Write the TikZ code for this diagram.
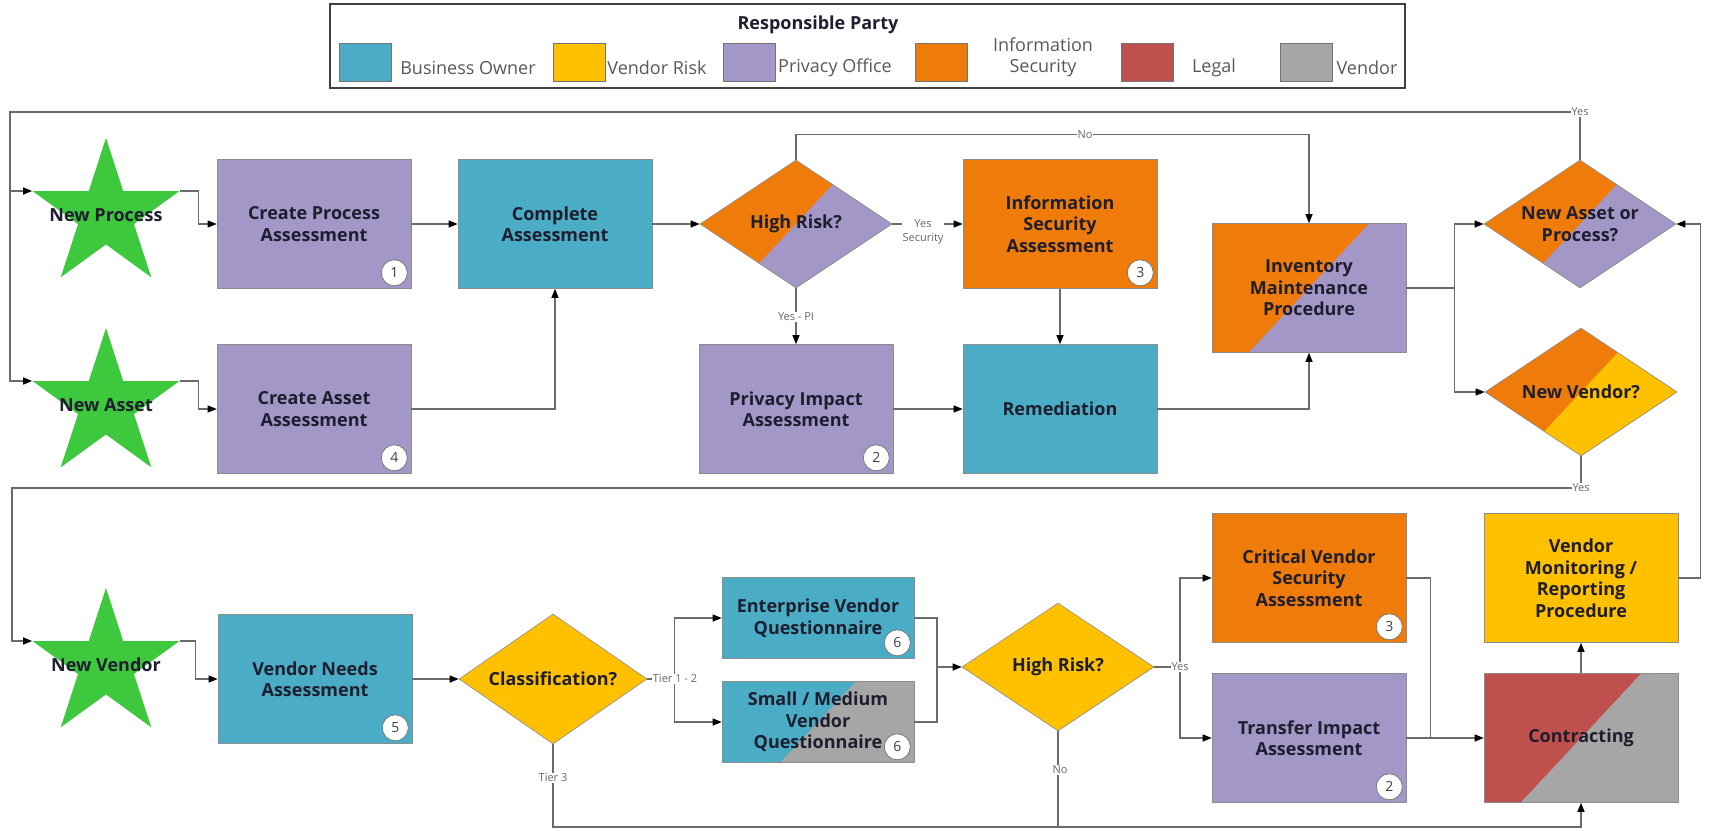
\documentclass[tikz,border=0pt]{standalone}
\usepackage{fontspec}
\setmainfont{Open Sans}
\usetikzlibrary{shapes.geometric,arrows.meta,calc}
\definecolor{cteal}{HTML}{4BACC6}
\definecolor{cyellow}{HTML}{FFC000}
\definecolor{clav}{HTML}{A397C7}
\definecolor{corange}{HTML}{EE7B0A}
\definecolor{cred}{HTML}{C0504D}
\definecolor{cgray}{HTML}{A6A6A6}
\definecolor{cgreen}{HTML}{3EC83E}
\definecolor{txt}{HTML}{1E1E2E}
\definecolor{lgray}{HTML}{6B6B6B}
\tikzset{
  base/.style={draw=black!45, line width=0.6pt, text=txt, font=\fontsize{18}{21.5}\selectfont\bfseries, align=center, inner sep=0pt},
  stepbox/.style={base, rectangle, minimum width=194pt, minimum height=129pt},
  qbox/.style={base, rectangle, minimum width=192pt, minimum height=81pt},
  dec/.style={base, diamond, aspect=1.5, minimum width=192pt, minimum height=128pt},
  split/.style n args={2}{fill=#1, path picture={\fill[#2] ($(path picture bounding box.center)+(140,-150)$) -- ($(path picture bounding box.center)+(-140,150)$) -- ($(path picture bounding box.center)+(300,300)$) -- cycle;}},
  starshape/.style={star, star points=5, star point ratio=2.618, minimum size=154pt, inner sep=0pt, fill=cgreen, draw=none},
  startext/.style={font=\fontsize{18}{21.5}\selectfont\bfseries, text=txt},
  badge/.style={circle, fill=white, draw=black!55, line width=0.7pt, minimum size=26pt, inner sep=0pt, font=\fontsize{14}{14}\selectfont, text=black!75},
  conn/.style={draw=lgray, line width=1.2pt},
  arr/.style={conn, -{Triangle[length=9pt, width=7pt, color=black]}},
  lbl/.style={fill=white, inner sep=1pt, font=\fontsize{11}{14}\selectfont, text=black!60, align=center},
  swatch/.style={rectangle, minimum width=52pt, minimum height=38pt, draw=black!55, line width=0.6pt, inner sep=0pt},
  legtext/.style={font=\fontsize{18}{21}\selectfont, text=black!65, align=center, inner sep=0pt},
}
\begin{document}
\begin{tikzpicture}[x=1pt, y=-1pt]
\useasboundingbox (0,0) rectangle (1710,830);
\fill[white] (0,0) rectangle (1710,830);

% Legend
\node[draw=black!75, line width=1.5pt, fill=white, minimum width=1075pt, minimum height=84pt, inner sep=0pt] (legend) at (867.5,46) {};
\node[font=\fontsize{18}{21}\selectfont\bfseries, text=txt] (legtitle) at (818,25) {Responsible Party};
\node[swatch, fill=cteal, anchor=north west] (sw1) at (339,43) {};
\node[legtext] (lt1) at (468,68) {Business Owner};
\node[swatch, fill=cyellow, anchor=north west] (sw2) at (553,43) {};
\node[legtext] (lt2) at (657,68) {Vendor Risk};
\node[swatch, fill=clav, anchor=north west] (sw3) at (723,43) {};
\node[legtext] (lt3) at (835,68) {Privacy Office};
\node[swatch, fill=corange, anchor=north west] (sw4) at (915,43) {};
\node[legtext] (lt4) at (1043,57) {Information\\Security};
\node[swatch, fill=cred, anchor=north west] (sw5) at (1121,43) {};
\node[legtext] (lt5) at (1214,68) {Legal};
\node[swatch, fill=cgray, anchor=north west] (sw6) at (1280,43) {};
\node[legtext] (lt6) at (1367,68) {Vendor};

% Stars
\node[starshape] (np) at (106,215) {};
\node[startext] (npt) at (np.center) {New Process};
\node[starshape] (na) at (106,405) {};
\node[startext] (nat) at (na.center) {New Asset};
\node[starshape] (nv) at (106,665) {};
\node[startext] (nvt) at (nv.center) {New Vendor};

% Row 1 / 2
\node[stepbox, fill=clav] (cpa) at (314,224) {Create Process\\Assessment};
\node[stepbox, fill=cteal] (ca) at (555,224) {Complete\\Assessment};
\node[dec, split={corange}{clav}] (hr1) at (796,224) {High Risk?};
\node[stepbox, fill=corange] (isa) at (1060,224) {Information\\Security\\Assessment};
\node[stepbox, split={corange}{clav}] (imp) at (1309,288) {Inventory\\Maintenance\\Procedure};
\node[dec, split={corange}{clav}] (nap) at (1580,224) {New Asset or\\Process?};
\node[dec, split={corange}{cyellow}] (nvd) at (1581,392) {New Vendor?};
\node[stepbox, fill=clav] (caa) at (314,409) {Create Asset\\Assessment};
\node[stepbox, fill=clav] (pia) at (796,409) {Privacy Impact\\Assessment};
\node[stepbox, fill=cteal] (rem) at (1060,409) {Remediation};

% Row 3
\node[stepbox, fill=cteal] (vna) at (315,679) {Vendor Needs\\Assessment};
\node[dec, fill=cyellow, minimum width=188pt, minimum height=130pt] (cls) at (553,679) {Classification?};
\node[qbox, fill=cteal] (evq) at (818,618) {Enterprise Vendor\\Questionnaire};
\node[qbox, split={cteal}{cgray}] (smq) at (818,722) {Small / Medium\\Vendor\\Questionnaire};
\node[dec, fill=cyellow] (hr2) at (1058,667) {High Risk?};
\node[stepbox, fill=corange] (cvs) at (1309,578) {Critical Vendor\\Security\\Assessment};
\node[stepbox, fill=clav] (tia) at (1309,738) {Transfer Impact\\Assessment};
\node[stepbox, fill=cyellow] (vmr) at (1581,578) {Vendor\\Monitoring /\\Reporting\\Procedure};
\node[stepbox, split={cred}{cgray}] (con) at (1581,738) {Contracting};

% Badges
\node[badge] (b1) at ([shift={(-17,-16)}]cpa.south east) {1};
\node[badge] (b4) at ([shift={(-17,-16)}]caa.south east) {4};
\node[badge] (b2a) at ([shift={(-17,-16)}]pia.south east) {2};
\node[badge] (b3a) at ([shift={(-17,-16)}]isa.south east) {3};
\node[badge] (b5) at ([shift={(-17,-16)}]vna.south east) {5};
\node[badge] (b6a) at ([shift={(-17,-16)}]evq.south east) {6};
\node[badge] (b6b) at ([shift={(-17,-16)}]smq.south east) {6};
\node[badge] (b3b) at ([shift={(-17,-16)}]cvs.south east) {3};
\node[badge] (b2b) at ([shift={(-17,-16)}]tia.south east) {2};

% Helper coordinates
\coordinate (lx) at (10,112);
\coordinate (vx) at (12,488);
\coordinate (mx) at (937,667);
\coordinate (yx) at (1180,667);
\coordinate (by) at (0,827);

% Connectors
\draw[arr] (nap.north) |- (lx) |- (na.outer point 2);
\draw[arr] (np.outer point 2 -| lx) -- (np.outer point 2);
\draw[arr] (np.outer point 5) -- ++(19,0) |- (cpa.west);
\draw[arr] (na.outer point 5) -- ++(19,0) |- (caa.west);
\draw[arr] (cpa.east) -- (ca.west);
\draw[arr] (caa.east) -| (ca.south);
\draw[arr] (ca.east) -- (hr1.west);
\draw[arr] (hr1.north) -- ++(0,-25) -| (imp.north);
\draw[arr] (hr1.east) -- (isa.west);
\draw[arr] (hr1.south) -- (pia.north);
\draw[arr] (isa.south) -- (rem.north);
\draw[arr] (pia.east) -- (rem.west);
\draw[arr] (rem.east) -| (imp.south);
\draw[arr] (imp.east) -- ++(48,0) |- (nap.west);
\draw[arr] (imp.east) -- ++(48,0) |- (nvd.west);
\draw[arr] (vmr.east) -- ++(22,0) |- (nap.east);
\draw[arr] (nvd.south) |- (vx) |- (nv.outer point 2);
\draw[arr] (nv.outer point 5) -- ++(16,0) |- (vna.west);
\draw[arr] (vna.east) -- (cls.west);
\draw[arr] (cls.east) -- ++(27,0) |- (evq.west);
\draw[arr] (cls.east) -- ++(27,0) |- (smq.west);
\draw[conn] (evq.east) -| (mx) |- (smq.east);
\draw[arr] (mx) -- (hr2.west);
\draw[conn] (hr2.east) -- (yx);
\draw[arr] (yx) |- (cvs.west);
\draw[arr] (yx) |- (tia.west);
\draw[conn] (cvs.east) -| ($(tia.east)+(24,0)$);
\draw[arr] (tia.east) -- (con.west);
\draw[arr] (con.north) -- (vmr.south);
\draw[arr] (cls.south) |- (by -| con.south) -- (con.south);
\draw[conn] (hr2.south) -- (hr2.south |- by);

% Connector labels
\node[lbl] (lno1) at (1085,135) {No};
\node[lbl] (lyes1) at (nap.north |- lx) {Yes};
\node[lbl] (lsec) at (923,232) {Yes\\Security};
\node[lbl] (lpi) at (796,317) {Yes - PI};
\node[lbl] (lyes2) at (nvd.south |- vx) {Yes};
\node[lbl] (ltier) at (675,679) {Tier 1 - 2};
\node[lbl] (ltier3) at (553,778) {Tier 3};
\node[lbl] (lno2) at (1060,770) {No};
\node[lbl] (lyes3) at (yx) {Yes};
\end{tikzpicture}
\end{document}
